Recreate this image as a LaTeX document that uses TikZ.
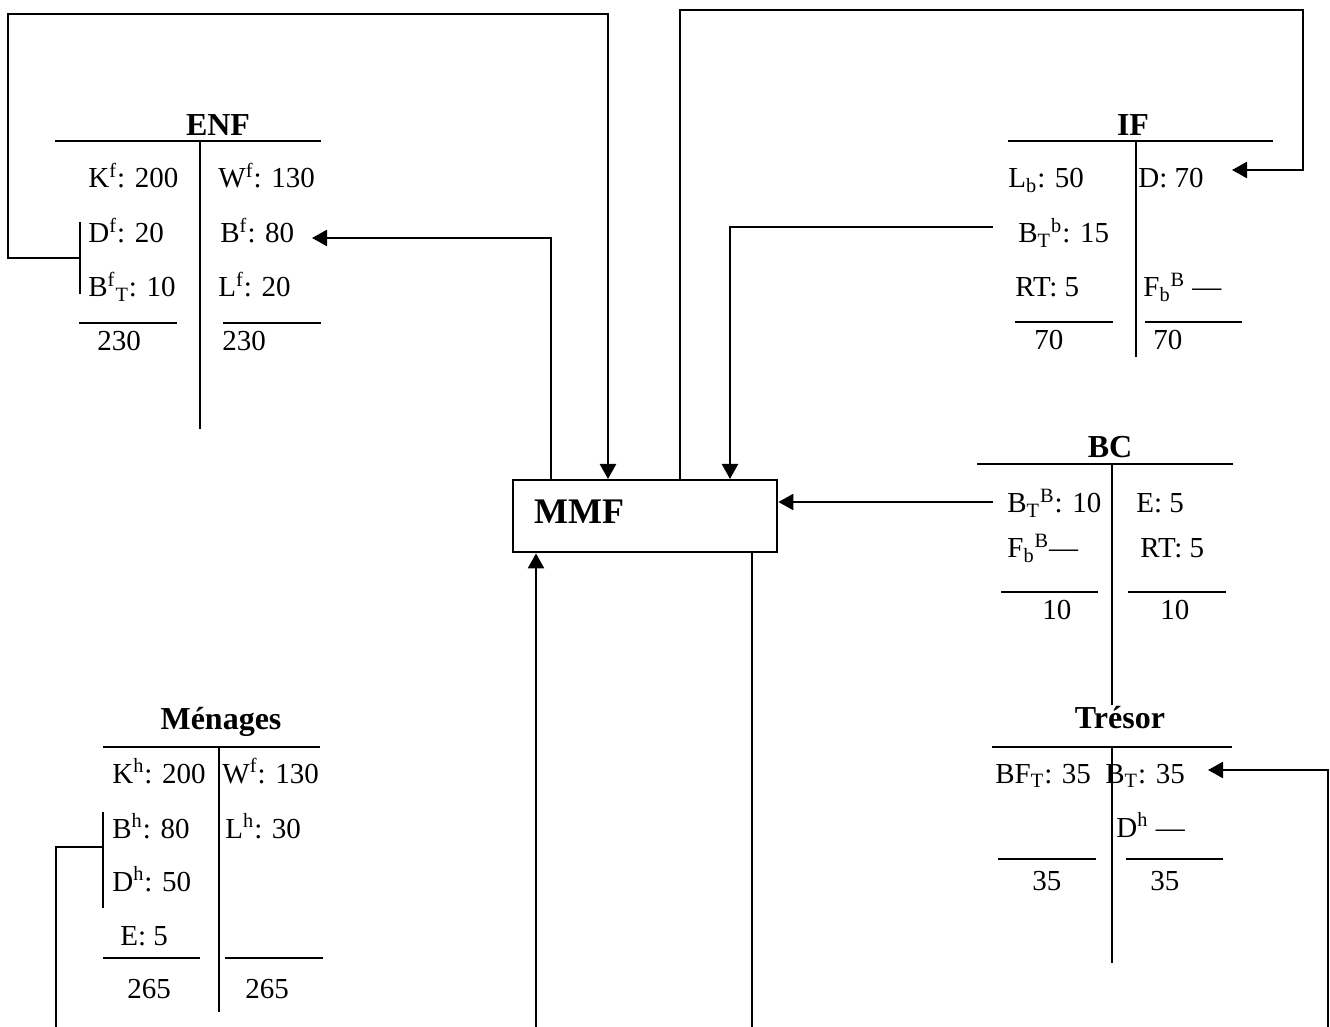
\documentclass[tikz,border=0pt]{standalone}
\usepackage{fontspec}
\setmainfont{Liberation Serif}
\usetikzlibrary{arrows.meta}
\begin{document}
\begin{tikzpicture}[x=0.5pt,y=-0.5pt,
  ln/.style={line width=1.2pt},
  arr/.style={line width=1.2pt,-{Triangle[length=7.5pt,width=8pt]}},
  txt/.style={anchor=base west,inner sep=0pt,font=\fontsize{14.5}{17}\selectfont},
  ttl/.style={anchor=base,inner sep=0pt,font=\fontsize{16}{19}\selectfont\bfseries},
]
\useasboundingbox (0,0) rectangle (1330,1027);

% ---------- ENF ----------
\node[ttl] (enf) at (218,136) {ENF};
\draw[ln] (55,141) -- (321,141);
\draw[ln] (200,141) -- (200,429);
\node[txt] (kf) at (88,188) {K\textsuperscript{f}: 200};
\node[txt] (wf) at (218,188) {W\textsuperscript{f}: 130};
\node[txt] (df) at (88,243) {D\textsuperscript{f}: 20};
\node[txt] (bf) at (220,243) {B\textsuperscript{f}: 80};
\node[txt] (bft) at (88,297) {B\textsuperscript{f}\textsubscript{T}: 10};
\node[txt] (lf) at (218,297) {L\textsuperscript{f}: 20};
\draw[ln] (79,323) -- (177,323);
\draw[ln] (223,323) -- (321,323);
\node[txt] (enfsl) at (97,351) {230};
\node[txt] (enfsr) at (222,351) {230};
\draw[ln] (80,222) -- (80,294);
\coordinate (enfbr) at (80,258);

% ---------- IF ----------
\node[ttl] (if) at (1133,136) {IF};
\draw[ln] (1008,141) -- (1273,141);
\draw[ln] (1136,141) -- (1136,357);
\node[txt] (lb) at (1008,188) {L\textsubscript{b}: 50};
\node[txt] (d) at (1138,188) {D: 70};
\node[txt] (btb) at (1018,243) {B\textsubscript{T}\textsuperscript{b}: 15};
\node[txt] (rt) at (1015,297) {RT: 5};
\node[txt] (fbb) at (1143,297) {F\textsubscript{b}\textsuperscript{B} —};
\draw[ln] (1015,322) -- (1113,322);
\draw[ln] (1145,322) -- (1242,322);
\node[txt] (ifsl) at (1034,350) {70};
\node[txt] (ifsr) at (1153,350) {70};

% ---------- BC ----------
\node[ttl] (bc) at (1110,458) {BC};
\draw[ln] (977,464) -- (1233,464);
\draw[ln] (1112,464) -- (1112,705);
\node[txt] (btB) at (1007,513) {B\textsubscript{T}\textsuperscript{B}: 10};
\node[txt] (e) at (1136,513) {E: 5};
\node[txt] (fbB) at (1007,558) {F\textsubscript{b}\textsuperscript{B}—};
\node[txt] (rtbc) at (1140,558) {RT: 5};
\draw[ln] (1001,592) -- (1098,592);
\draw[ln] (1128,592) -- (1226,592);
\node[txt] (bcsl) at (1042,619) {10};
\node[txt] (bcsr) at (1160,619) {10};

% ---------- Tresor ----------
\node[ttl] (tresor) at (1120,728) {Trésor};
\draw[ln] (992,747) -- (1232,747);
\draw[ln] (1112,747) -- (1112,963);
\node[txt] (bft2) at (995,783) {BF\textsubscript{T}: 35};
\node[txt] (bt) at (1105,783) {B\textsubscript{T}: 35};
\node[txt] (dh2) at (1116,837) {D\textsuperscript{h} —};
\draw[ln] (998,859) -- (1096,859);
\draw[ln] (1126,859) -- (1223,859);
\node[txt] (trsl) at (1032,890) {35};
\node[txt] (trsr) at (1150,890) {35};

% ---------- Menages ----------
\node[ttl] (men) at (221,729) {Ménages};
\draw[ln] (103,747) -- (320,747);
\draw[ln] (219,747) -- (219,1012);
\node[txt] (kh) at (112,783) {K\textsuperscript{h}: 200};
\node[txt] (wfh) at (222,783) {W\textsuperscript{f}: 130};
\node[txt] (bh) at (112,838) {B\textsuperscript{h}: 80};
\node[txt] (lh) at (225,838) {L\textsuperscript{h}: 30};
\node[txt] (dh) at (112,891) {D\textsuperscript{h}: 50};
\node[txt] (eh) at (120,945) {E: 5};
\draw[ln] (103,958) -- (200,958);
\draw[ln] (225,958) -- (323,958);
\node[txt] (mensl) at (127,998) {265};
\node[txt] (mensr) at (245,998) {265};
\draw[ln] (103,812) -- (103,908);
\coordinate (menbr) at (103,847);

% ---------- MMF ----------
\node[draw,line width=1.2pt,anchor=north west,minimum width=132pt,minimum height=36pt,
      text width=111pt,inner xsep=10.5pt,inner ysep=0pt,align=left,
      text height=7pt,text depth=0pt,
      font=\fontsize{18}{21}\selectfont\bfseries] (mmf) at (512,479) {MMF};

% ---------- connectors ----------
\coordinate (tlA) at (608,14);
\draw[arr] (enfbr) -| (8,14) -- (tlA) -- (tlA |- mmf.north);

\coordinate (bfin) at (312,238);
\coordinate (m1) at (551,300);
\draw[arr] (m1 |- mmf.north) |- (bfin);

\coordinate (ifb) at (993,227);
\coordinate (m3) at (730,300);
\draw[arr] (ifb) -| (m3 |- mmf.north);

\coordinate (dtip) at (1232,170);
\coordinate (m2) at (680,10);
\draw[arr] (m2 |- mmf.north) -- (m2) -- (1303,10) -- (1303,170) -- (dtip);

\coordinate (bcb) at (993,502);
\draw[arr] (bcb) -- (bcb -| mmf.east);

\coordinate (b1) at (536,1027);
\draw[arr] (b1) -- (b1 |- mmf.south);

\coordinate (b2) at (752,1027);
\draw[ln] (b2 |- mmf.south) -- (b2);

\coordinate (ttip) at (1208,770);
\draw[arr] (1328,1027) |- (ttip);

\draw[ln] (56,1027) |- (menbr);
\end{tikzpicture}
\end{document}
